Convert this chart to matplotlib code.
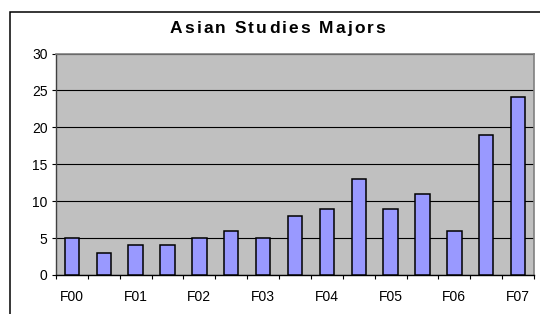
import matplotlib
matplotlib.use("Agg")
import matplotlib.pyplot as plt
from matplotlib.patches import Rectangle
import numpy as np

matplotlib.rc("font", **{'family': "sans-serif", 'sans-serif': ["Liberation Sans", "DejaVu Sans"]})

# semesters: fall / spring alternating, only fall labelled
terms = ["F00", "S01", "F01", "S02", "F02", "S03", "F03", "S04",
         "F04", "S05", "F05", "S06", "F06", "S07", "F07"]
majors = [5, 3, 4, 4, 5, 6, 5, 8, 9, 13, 9, 11, 6, 19, 24.1]
y_ticks = [0, 5, 10, 15, 20, 25, 30]
title = "Asian Studies Majors"

W, H = 540, 314
fig = plt.figure(figsize=(W / 100, H / 100), dpi=100)
fig.patch.set_facecolor("white")

# chart area border (cropped at right/bottom)
fig.patches.append(Rectangle((10 / W, -0.1), 1.2, 1.1 - 12 / H, transform=fig.transFigure,
                             fill=False, edgecolor="black", linewidth=1.1))

ax = fig.add_axes([56 / W, 1 - 275 / H, (534 - 56) / W, (275 - 53.5) / H])
ax.set_facecolor("#C0C0C0")

x = np.arange(len(terms))
ax.bar(x, majors, width=0.45, color="#9999FF", edgecolor="black", linewidth=1.1, zorder=3)

ax.set_xlim(-0.5, len(terms) - 0.5)
ax.set_ylim(0, 30)
ax.set_yticks(y_ticks)
ax.set_yticklabels([str(v) for v in y_ticks], fontsize=10)
ax.yaxis.grid(True, color="black", linewidth=0.8, zorder=1)
ax.set_axisbelow(True)

ax.set_xticks(x[::2])
ax.set_xticklabels(terms[::2], fontsize=10)
ax.set_xticks(np.arange(len(terms) + 1) - 0.5, minor=True)
ax.tick_params(axis="x", which="major", length=0, pad=11)
ax.tick_params(axis="x", which="minor", length=3, width=0.8, color="black")
ax.tick_params(axis="y", length=3, width=0.8, pad=3, color="black")

for side in ["top", "right"]:
    ax.spines[side].set_color("#808080")
    ax.spines[side].set_linewidth(1.2)
ax.spines["left"].set_color("#404040")
ax.spines["bottom"].set_color("black")
ax.spines["left"].set_linewidth(1.0)
ax.spines["bottom"].set_linewidth(1.0)

# title drawn letter by letter to get the wide Excel letter spacing
renderer = fig.canvas.get_renderer()
probe = fig.text(0, 0, "x", fontsize=12.5, weight="bold")


def text_width(s):
    probe.set_text(s)
    return probe.get_window_extent(renderer).width


x_w = text_width("x")
offsets = [text_width(title[:i] + "x") - x_w for i in range(len(title))]
natural = text_width(title)
probe.remove()

left, right = 170, 385
extra = (right - left - natural) / (len(title) - 1)
for i, ch in enumerate(title):
    if ch == " ":
        continue
    fig.text((left + offsets[i] + i * extra) / W, 1 - 33.3 / H, ch,
             fontsize=12.5, weight="bold", ha="left", va="baseline")

fig.savefig("out.png", dpi=100)
